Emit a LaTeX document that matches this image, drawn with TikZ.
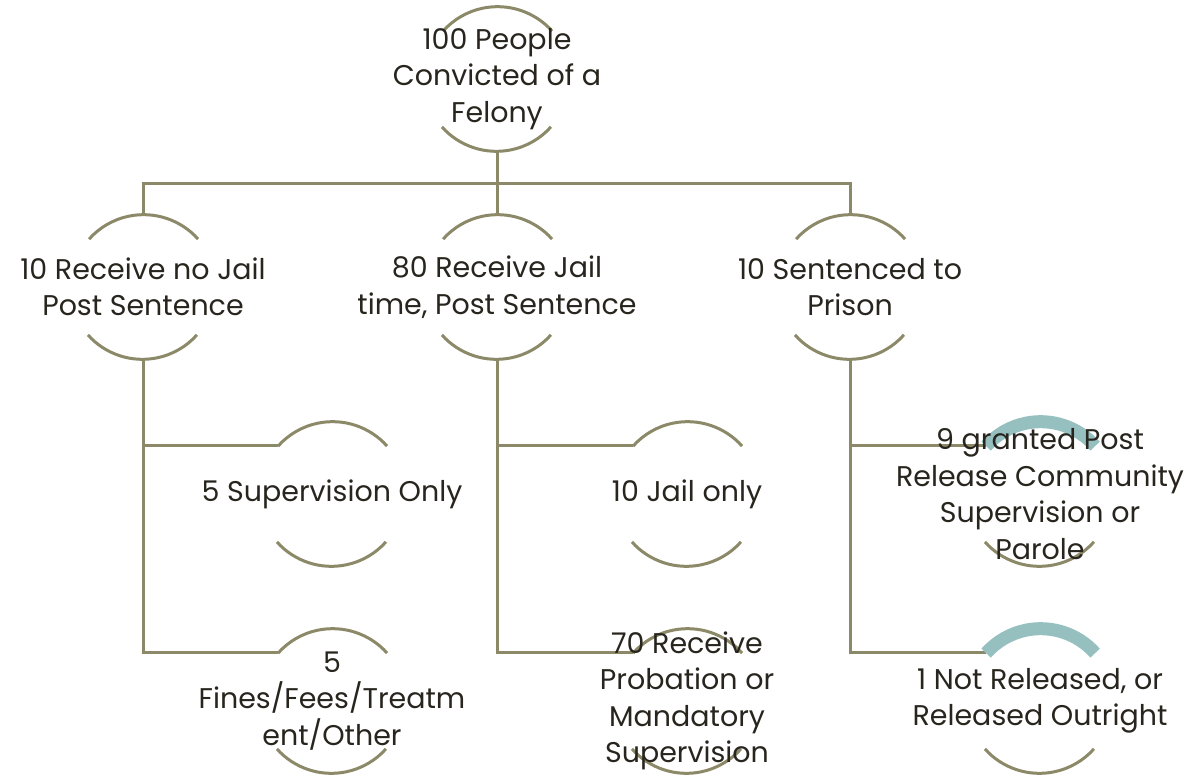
\documentclass[tikz,border=0pt]{standalone}
\usepackage{fontspec}
\setmainfont{Poppins}
\usetikzlibrary{calc}

\definecolor{olive}{RGB}{140,137,104}
\definecolor{tealband}{RGB}{150,191,191}
\definecolor{ink}{RGB}{40,37,30}

% top and bottom arcs of a ring node
\newcommand{\ringarcs}[1]{%
  \draw[arcline] (#1.41.7) arc[start angle=41.7, end angle=138.3, radius=73];
  \draw[arcline] (#1.221.7) arc[start angle=221.7, end angle=318.3, radius=73];
}
\newcommand{\markarcs}[1]{%
  \draw[markline] (#1.41.7) arc[start angle=41.7, end angle=138.3, radius=73];
  \draw[arcline] (#1.221.7) arc[start angle=221.7, end angle=318.3, radius=73];
}

\begin{document}
\begin{tikzpicture}[
  x=1pt, y=1pt,
  ring/.style={circle, minimum size=146pt, inner sep=0pt, outer sep=0pt},
  txt/.style={align=center, text=ink, inner sep=0pt,
              font=\fontsize{28.5}{36.5}\selectfont},
  link/.style={draw=olive, line width=3pt},
  arcline/.style={draw=olive, line width=3pt},
  markline/.style={draw=tealband, line width=13pt}
]
\useasboundingbox (0,0) rectangle (1186,-776);

\node[ring] (top) at (497,-79) {};
\node[ring] (nojail) at (143,-287) {};
\node[ring] (jail) at (497,-287) {};
\node[ring] (prison) at (850,-287) {};
\node[ring] (suponly) at (332,-494) {};
\node[ring] (jailonly) at (687,-494) {};
\node[ring] (parole) at (1040,-494) {};
\node[ring] (fines) at (332,-701) {};
\node[ring] (probation) at (687,-701) {};
\node[ring] (notrel) at (1040,-701) {};

\coordinate (bus) at (497,-183);

% connectors
\draw[link] (top.south) -- (jail.north);
\draw[link] (nojail.north) |- (bus) -| (prison.north);
\draw[link] (nojail.south) |- (fines.138.3);
\draw[link] (nojail.south |- suponly.138.3) -- (suponly.138.3);
\draw[link] (jail.south) |- (probation.138.3);
\draw[link] (jail.south |- jailonly.138.3) -- (jailonly.138.3);
\draw[link] (prison.south) |- (notrel.138.3);
\draw[link] (prison.south |- parole.138.3) -- (parole.138.3);

\ringarcs{top}
\ringarcs{nojail}
\ringarcs{jail}
\ringarcs{prison}
\ringarcs{suponly}
\ringarcs{jailonly}
\ringarcs{fines}
\ringarcs{probation}
\markarcs{parole}
\markarcs{notrel}

\node[txt] (top-t) at (top) {100 People\\Convicted of a\\Felony};
\node[txt] (nojail-t) at (nojail) {10 Receive no Jail\\Post Sentence};
\node[txt] (jail-t) at (jail) {80 Receive Jail\\time, Post Sentence};
\node[txt] (prison-t) at (prison) {10 Sentenced to\\Prison};
\node[txt] (suponly-t) at (suponly) {5 Supervision Only};
\node[txt] (jailonly-t) at (jailonly) {10 Jail only};
\node[txt] (parole-t) at (parole) {9 granted Post\\Release Community\\Supervision or\\Parole};
\node[txt] (fines-t) at (fines) {5\\Fines/Fees/Treatm\\ent/Other};
\node[txt] (probation-t) at (probation) {70 Receive\\Probation or\\Mandatory\\Supervision};
\node[txt] (notrel-t) at (notrel) {1 Not Released, or\\Released Outright};
\end{tikzpicture}
\end{document}
